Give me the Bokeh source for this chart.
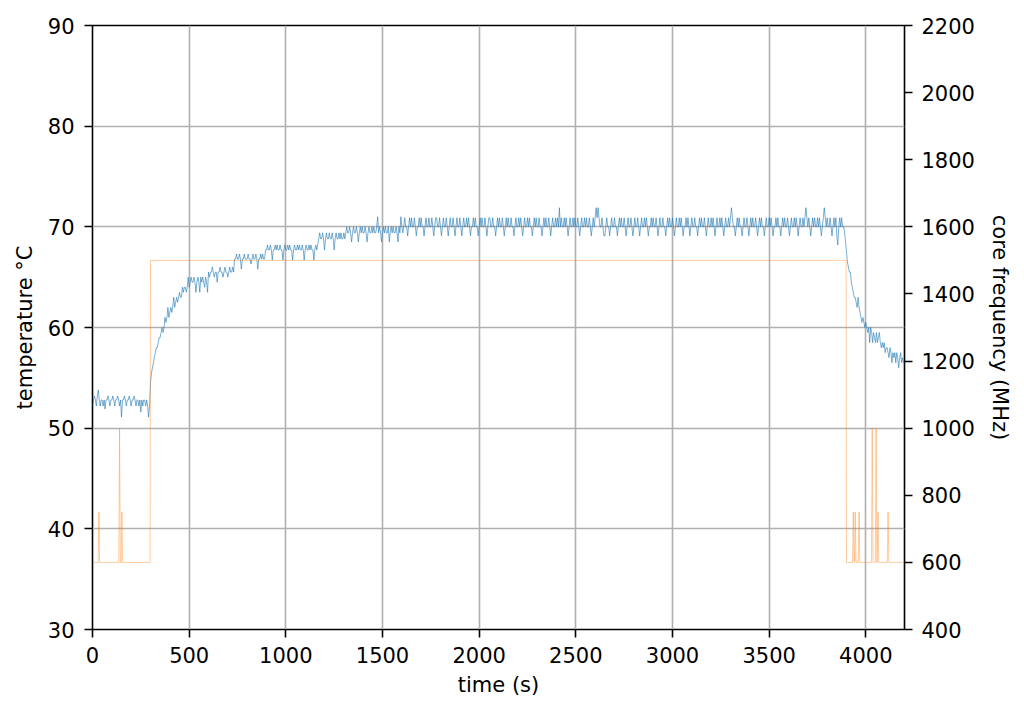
from bokeh.plotting import figure
from bokeh.models import Range1d, LinearAxis, FixedTicker
from bokeh.embed import file_html
from bokeh.resources import INLINE

# ---------------- data ----------------
sample_interval_s = 5  # temperature log interval

# temperature readings (°C), one every 5 s, split by phase
temp_idle = [
    52.2, 52.8, 53.2, 52.8, 52.2, 53.2, 53.8, 52.8, 52.2, 52.8, 52.8, 52.2, 52.8, 51.9, 52.8, 52.8, 53.2, 52.8, 52.2, 52.8,
    52.8, 53.2, 52.8, 52.2, 52.8, 52.8, 53.2, 52.8, 52.2, 52.8, 51.1, 52.8, 52.8, 53.2, 52.8, 52.2, 52.8, 52.8, 53.2, 52.8,
    52.2, 52.8, 52.8, 53.2, 52.8, 52.2, 52.8, 52.8, 52.2, 52.8, 51.6, 52.8, 52.2, 52.8, 52.8, 52.2, 52.8, 52.2, 51.1, 52.2]
temp_rise = [
    54.5, 55.5, 56.0, 56.5, 57.0, 57.5, 58.0, 58.0, 58.5, 59.0, 59.0, 59.5, 60.0, 59.5, 60.0, 61.0, 60.5, 61.0, 62.0, 61.0,
    61.5, 62.0, 61.5, 62.0, 63.0, 62.0, 62.5, 63.0, 62.5, 63.0, 63.5, 63.0, 63.0, 64.0, 63.5, 64.0, 64.0, 63.5, 64.0, 65.0,
    64.0, 64.5, 65.0, 64.5, 64.5, 65.0, 64.5, 63.5, 64.5, 65.0, 64.5, 63.5, 65.0, 64.5, 65.0, 64.5, 64.0, 65.0, 64.5, 63.5,
    65.5, 65.0, 65.5, 65.5, 66.0, 65.5, 65.0, 65.5, 65.5, 64.5, 65.5, 65.5, 66.0, 65.5, 65.5, 65.0, 65.5, 66.0, 65.5, 65.5,
    65.0, 65.5, 66.0, 65.5, 65.5, 66.0, 65.5, 66.8, 66.8, 67.3, 66.8, 66.8, 67.3, 66.8, 65.8, 66.8, 66.8, 67.3, 66.8, 66.8,
    66.8, 67.3, 66.8, 66.8, 66.3, 66.8, 67.3, 66.8, 66.8, 67.3, 66.8, 65.8, 66.8, 66.8, 67.3, 66.8, 67.3, 66.8, 66.8, 67.7]
temp_warm1 = [
    67.7, 68.2, 67.7, 67.7, 68.2, 67.7, 66.7, 67.7, 67.7, 68.2, 67.7, 68.2, 67.7, 67.7, 68.2, 67.7, 67.7, 66.7, 67.7, 68.2,
    67.7, 67.7, 68.2, 67.7, 68.2, 67.7, 67.7, 66.7, 67.7, 68.2, 67.7, 67.7, 68.2, 67.7, 68.2, 67.7, 67.7, 68.2, 67.7, 66.7,
    67.7, 68.2, 67.7, 67.7, 68.2, 67.7, 68.2, 67.7, 67.7, 66.7, 67.7, 68.2, 67.7, 68.2]
temp_warm2 = [
    68.8, 69.4, 68.8, 68.8, 69.4, 68.8, 67.7, 68.8, 69.4, 68.8, 68.8, 69.4, 68.8, 68.8, 69.4,
    68.8, 67.7, 68.8, 69.4, 68.8, 68.8, 69.4, 68.8, 69.4, 68.8, 68.8, 69.4, 68.8]
temp_warm3 = [
    69.4, 70.0, 69.4, 69.4, 70.0, 69.4, 68.5, 69.4, 70.0, 69.4, 69.4, 70.0, 69.4, 68.5, 69.4, 70.0, 69.4, 70.0, 69.4, 69.4,
    70.0, 69.4, 68.5, 69.4, 70.0, 69.4, 69.4, 70.0, 69.4, 70.0, 69.4, 69.4, 70.0, 71.0, 69.4, 70.0, 69.4, 68.5, 69.4, 70.0,
    69.4, 70.0, 69.4, 69.4, 70.0, 68.5, 69.4, 70.0, 69.4, 70.0, 69.4, 69.4, 70.0, 69.4, 68.5, 70.0, 69.4, 71.0, 70.0, 69.4]
temp_plateau = [
    70.0, 70.9, 70.0, 70.0, 69.1, 70.0, 70.9, 70.0, 70.9, 70.0, 70.0, 70.9, 70.0, 69.1, 70.0, 70.0, 70.9, 70.0, 70.9, 70.0,
    70.0, 69.1, 70.0, 70.9, 70.0, 70.0, 70.9, 70.0, 70.0, 70.9, 70.0, 69.1, 70.0, 70.9, 70.9, 70.0, 70.0, 70.9, 70.0, 69.1,
    70.0, 70.9, 70.0, 70.0, 70.9, 70.0, 69.1, 70.0, 70.9, 70.0, 70.0, 70.9, 70.0, 69.1, 70.0, 70.9, 70.0, 70.0, 70.9, 70.0,
    69.1, 70.0, 70.9, 70.0, 70.0, 70.9, 70.0, 70.9, 70.0, 69.1, 70.0, 70.0, 70.9, 70.0, 70.9, 70.0, 70.0, 69.1, 70.0, 70.9,
    70.0, 70.9, 70.0, 70.0, 70.9, 70.0, 69.1, 70.0, 70.9, 70.9, 70.0, 70.0, 70.9, 70.0, 70.0, 69.1, 70.0, 70.9, 70.0, 70.9,
    70.0, 70.0, 70.9, 70.0, 69.1, 70.0, 70.9, 70.0, 70.9, 70.0, 70.0, 70.9, 70.0, 70.0, 69.1, 70.0, 70.9, 70.0, 70.0, 70.9,
    70.0, 70.9, 70.0, 69.1, 70.0, 70.9, 70.0, 70.0, 70.9, 70.0, 70.9, 70.0, 70.0, 69.1, 70.0, 70.9, 70.0, 70.9, 70.0, 70.0,
    70.9, 70.0, 70.0, 69.1, 70.0, 70.9, 70.0, 70.9, 70.0, 70.0, 70.9, 70.0, 69.1, 70.0, 70.9, 70.0, 70.0, 70.9, 70.0, 70.9,
    70.0, 71.9, 70.0, 70.9, 70.0, 70.0, 70.9, 70.0, 70.9, 70.0, 69.1, 70.0, 70.9, 70.0, 70.0, 70.9, 70.0, 70.9, 70.0, 70.0,
    70.9, 70.0, 69.1, 70.0, 70.9, 70.0, 70.0, 70.9, 70.0, 70.9, 70.0, 70.0, 70.9, 70.0, 69.1, 70.0, 70.9, 70.0, 70.9, 71.9,
    70.9, 71.9, 70.9, 70.0, 70.0, 70.9, 70.0, 69.1, 69.1, 70.0, 70.9, 70.0, 70.0, 69.1, 70.0, 70.9, 70.0, 70.0, 70.9, 70.0,
    70.0, 69.1, 70.0, 70.9, 70.0, 70.9, 70.0, 70.0, 70.9, 70.0, 69.1, 70.0, 70.9, 70.0, 70.0, 70.9, 70.0, 69.1, 70.0, 70.9,
    70.0, 70.0, 70.9, 70.0, 69.1, 70.0, 70.9, 70.0, 70.0, 70.9, 70.0, 70.9, 70.0, 69.1, 70.0, 70.0, 70.9, 70.0, 70.9, 70.0,
    70.0, 70.9, 70.0, 69.1, 70.0, 70.9, 70.0, 70.0, 70.9, 70.0, 70.0, 69.1, 70.0, 70.9, 70.0, 70.9, 70.0, 70.0, 70.9, 70.0,
    69.1, 70.0, 70.9, 70.0, 70.0, 70.9, 70.0, 70.9, 70.0, 69.1, 70.0, 70.0, 70.9, 70.0, 70.9, 70.0, 69.1, 70.0, 70.9, 70.0,
    70.0, 70.9, 70.0, 70.0, 69.1, 70.0, 70.9, 70.0, 70.9, 70.0, 70.0, 70.9, 70.0, 69.1, 70.0, 70.9, 70.0, 70.0, 70.9, 70.0,
    70.9, 70.0, 69.1, 70.0, 70.9, 70.0, 70.0, 70.9, 70.0, 70.9, 70.0, 69.1, 70.0, 70.9, 70.0, 70.0, 70.9, 70.0, 70.9, 71.9,
    70.9, 70.0, 70.0, 69.1, 70.0, 70.9, 70.0, 70.9, 70.0, 70.0, 69.1, 70.0, 70.9, 70.0, 70.0, 70.9, 70.0, 69.1, 70.0, 70.9,
    70.0, 70.9, 70.0, 70.0, 70.9, 70.0, 69.1, 70.0, 70.9, 70.0, 70.9, 70.0, 70.0, 69.1, 70.0, 70.9, 70.0, 70.0, 70.9, 70.0,
    70.9, 70.0, 69.1, 70.0, 70.0, 70.9, 70.0, 70.9, 70.0, 70.0, 69.1, 70.0, 70.9, 70.0, 70.9, 70.0, 70.0, 70.9, 70.0, 69.1,
    70.0, 70.9, 70.0, 70.0, 70.9, 70.0, 70.9, 70.0, 69.1, 70.0, 70.9, 70.0, 70.0, 70.9, 70.0, 70.9, 71.9, 70.9, 70.0, 70.9,
    70.0, 69.1, 70.0, 70.9, 70.0, 70.9, 70.0, 70.0, 70.9, 70.0, 70.9, 70.0, 69.1, 70.0, 70.9, 71.9, 70.9, 70.0, 70.9, 70.0,
    70.0, 70.9, 70.0, 69.1, 70.0, 70.9, 70.0, 70.9, 69.1, 68.2, 70.0, 70.9, 70.0, 70.9, 70.0, 70.0]
temp_cool = [
    69.5, 68.5, 67.5, 66.5, 66.0, 65.5, 65.5, 64.5, 64.0, 63.5, 63.0, 63.0, 62.5, 62.0, 63.0, 62.0, 61.5, 61.0, 60.5, 61.0,
    60.5, 60.0, 60.5, 60.0, 59.5, 60.0, 58.5, 60.0, 59.5, 58.5, 59.5, 59.0, 58.5, 59.5, 58.5, 59.0, 59.5, 58.5, 58.0, 58.5,
    58.0, 58.5, 57.5, 58.0, 58.0, 57.5, 57.0, 58.0, 57.5, 56.5, 57.5, 57.0, 57.5, 56.5, 57.5, 57.0, 56.0, 57.0, 57.5, 56.5,
    57.0, 56.5, 56.5]

# core frequency readings (time in s, MHz)
freq_time = [0, 29, 33, 37, 136, 140, 144, 148, 152, 156, 298, 300,
             3898, 3900, 3931, 3935, 3939, 3941, 3945, 3949, 3961, 3965, 3969,
             4029, 4033, 4037, 4049, 4053, 4057, 4059, 4063, 4067,
             4111, 4115, 4119, 4200]
freq_mhz = [600, 600, 750, 600, 600, 1000, 600, 600, 750, 600, 600, 1500,
            1500, 600, 600, 750, 600, 600, 750, 600, 600, 750, 600,
            600, 1000, 600, 600, 1000, 600, 600, 750, 600,
            600, 750, 600, 600]

x_ticks = [0, 500, 1000, 1500, 2000, 2500, 3000, 3500, 4000]
temp_ticks = [30, 40, 50, 60, 70, 80, 90]
freq_ticks = [400, 600, 800, 1000, 1200, 1400, 1600, 1800, 2000, 2200]

temp_c = temp_idle + temp_rise + temp_warm1 + temp_warm2 + temp_warm3 + temp_plateau + temp_cool
temp_time = [i * sample_interval_s for i in range(len(temp_c))]

# ---------------- figure ----------------
FONT = "DejaVu Sans"
FS = "21px"

p = figure(frame_width=812, frame_height=604,
           min_border_left=92, min_border_top=25, min_border_right=112, min_border_bottom=75,
           x_range=Range1d(0, 4200), y_range=Range1d(30, 90),
           output_backend="svg", toolbar_location=None)
p.extra_y_ranges = {"freq": Range1d(400, 2200)}
p.background_fill_color = "white"
p.border_fill_color = "white"
p.outline_line_color = "black"
p.outline_line_width = 1.6

p.line(temp_time, temp_c, line_color="#1f77b4", line_width=0.6)
p.line(freq_time, freq_mhz, line_color="#ff7f0e", line_width=0.5, line_alpha=0.8,
       y_range_name="freq")

right = LinearAxis(y_range_name="freq")
p.add_layout(right, "right")

def style_axis(ax, ticks, label, standoff, label_standoff):
    ax.ticker = FixedTicker(ticks=ticks)
    ax.axis_label = label
    ax.axis_label_text_font = FONT
    ax.axis_label_text_font_size = FS
    ax.axis_label_text_font_style = "normal"
    ax.axis_label_text_color = "black"
    ax.axis_label_standoff = label_standoff
    ax.major_label_text_font = FONT
    ax.major_label_text_font_size = FS
    ax.major_label_text_color = "black"
    ax.major_label_standoff = standoff
    ax.major_tick_out = 8
    ax.major_tick_in = 0
    ax.major_tick_line_width = 1.6
    ax.major_tick_line_color = "black"
    ax.minor_tick_line_color = None
    ax.axis_line_color = None

style_axis(p.xaxis[0], x_ticks, "time (s)", 9, 7)
style_axis(p.yaxis[0], temp_ticks, "temperature °C", 10, 8)
style_axis(right, freq_ticks, "core frequency (MHz)", 9, 10)

p.xgrid.ticker = FixedTicker(ticks=x_ticks)
p.ygrid.ticker = FixedTicker(ticks=temp_ticks)
for g in (p.xgrid[0], p.ygrid[0]):
    g.grid_line_color = "#b0b0b0"
    g.grid_line_width = 1.6

open("out.html", "w").write(file_html(p, INLINE))
